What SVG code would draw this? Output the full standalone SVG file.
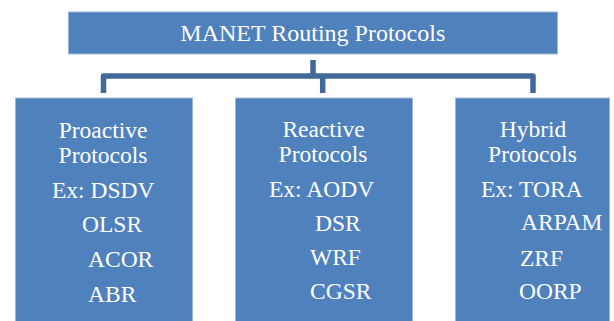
<svg xmlns="http://www.w3.org/2000/svg" width="614" height="321" viewBox="0 0 614 321">
  <defs>
    <rect id="lowbox" width="177" height="230" fill="#4F81BD" stroke="#9DB6DB" stroke-width="1"/>
  </defs>
  <rect width="614" height="321" fill="#FFFFFF"/>
  <g id="connectors" fill="none" stroke="#41699C" stroke-width="5.5" stroke-linejoin="round">
    <path d="M313 60 V76"/>
    <path d="M103.5 93 V76 H533 V93"/>
    <path d="M322.7 76 V93"/>
  </g>
  <g id="root">
    <rect x="68.5" y="12" width="489" height="42" fill="#4F81BD" stroke="#9DB6DB" stroke-width="1"/>
    <text x="312.8" y="40.5" text-anchor="middle" font-family="Liberation Serif" font-size="24" fill="#FFFFFF">MANET Routing Protocols</text>
  </g>
  <g id="proactive" font-family="Liberation Serif" font-size="23.5" fill="#FFFFFF">
    <use href="#lowbox" x="15.5" y="98"/>
    <text x="103" y="138" text-anchor="middle">Proactive</text>
    <text x="103" y="163" text-anchor="middle">Protocols</text>
    <text x="52" y="198">Ex: DSDV</text>
    <text x="82" y="232">OLSR</text>
    <text x="88" y="267">ACOR</text>
    <text x="88" y="302">ABR</text>
  </g>
  <g id="reactive" font-family="Liberation Serif" font-size="23.5" fill="#FFFFFF">
    <use href="#lowbox" x="235.5" y="98"/>
    <text x="323.5" y="137" text-anchor="middle">Reactive</text>
    <text x="323" y="162" text-anchor="middle">Protocols</text>
    <text x="269" y="197">Ex: AODV</text>
    <text x="315" y="231">DSR</text>
    <text x="310" y="265">WRF</text>
    <text x="310" y="299">CGSR</text>
  </g>
  <g id="hybrid" font-family="Liberation Serif" font-size="23.5" fill="#FFFFFF">
    <rect x="455.5" y="98" width="154" height="230" fill="#4F81BD" stroke="#9DB6DB" stroke-width="1"/>
    <text x="533" y="137" text-anchor="middle">Hybrid</text>
    <text x="532.5" y="162" text-anchor="middle">Protocols</text>
    <text x="481" y="197">Ex: TORA</text>
    <text x="521" y="230">ARPAM</text>
    <text x="520" y="266">ZRF</text>
    <text x="519" y="299">OORP</text>
  </g>
</svg>
